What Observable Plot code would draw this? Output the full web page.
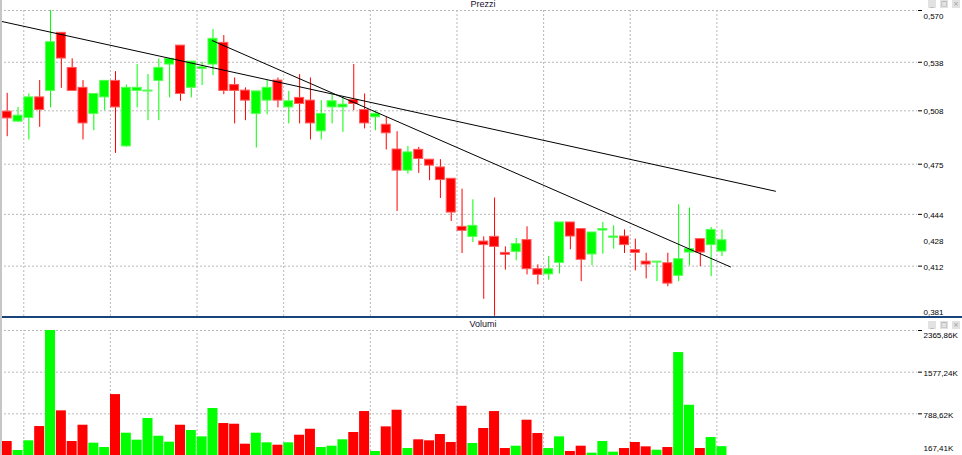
<!DOCTYPE html>
<html><head><meta charset="utf-8">
<script src="https://cdn.jsdelivr.net/npm/d3@7"></script>
<script src="https://cdn.jsdelivr.net/npm/@observablehq/plot@0.6"></script>
<style>
html,body{margin:0;padding:0;background:#fff;overflow:hidden}
#wrap{position:relative;width:962px;height:455px;overflow:hidden;background:#fff}
#wrap svg{display:block}
.sep{height:2px;background:#17457a}
.lb{position:absolute;left:0;top:0;width:2px;height:455px;background:#c6c6c6}
.icons{position:absolute;left:928px;display:flex;gap:4px}
.icons span{display:block;width:8px;height:8px;background:#e2e2e2;color:#9a9a9a;font:7px/8px 'DejaVu Sans',sans-serif;text-align:center}
</style></head><body><div id="wrap"></div>
<script>
// ---- data ----
const opens = [0.5075,0.5013,0.5036,0.5163,0.5203,0.5562,0.5345,0.5222,0.5061,0.5163,
  0.5265,0.4860,0.5203,0.5199,0.5265,0.5366,0.5483,0.5222,0.5339,0.5366,
  0.5500,0.5240,0.5205,0.5061,0.5143,0.5267,0.5101,0.5160,0.5143,0.4953,
  0.5101,0.5101,0.5147,0.5085,0.5040,0.4994,0.4841,0.4710,0.4839,0.4778,
  0.4730,0.4660,0.4363,0.4301,0.4272,0.4301,0.4202,0.4208,0.4281,0.4101,
  0.4069,0.4140,0.4390,0.4349,0.4192,0.4340,0.4295,0.4303,0.4219,0.4148,
  0.4142,0.4138,0.4060,0.4204,0.4287,0.4250,0.4210];
const highs = [0.5188,0.5101,0.5184,0.5267,0.5700,0.5562,0.5401,0.5267,0.5184,0.5265,
  0.5322,0.5240,0.5366,0.5304,0.5401,0.5401,0.5483,0.5384,0.5380,0.5582,
  0.5545,0.5283,0.5222,0.5200,0.5267,0.5283,0.5200,0.5304,0.5283,0.5143,
  0.5184,0.5163,0.5366,0.5184,0.5081,0.5040,0.4951,0.4860,0.4854,0.4778,
  0.4778,0.4660,0.4596,0.4530,0.4301,0.4541,0.4239,0.4291,0.4363,0.4128,
  0.4180,0.4390,0.4390,0.4349,0.4328,0.4390,0.4369,0.4344,0.4287,0.4200,
  0.4148,0.4200,0.4499,0.4479,0.4287,0.4359,0.4344];
const lows = [0.4920,0.5009,0.4900,0.4978,0.5098,0.5219,0.5203,0.4900,0.4957,0.5081,
  0.4817,0.4854,0.5098,0.5019,0.5019,0.5160,0.5139,0.5160,0.5236,0.5298,
  0.5180,0.4999,0.5019,0.4850,0.5056,0.5098,0.4999,0.4999,0.4900,0.4900,
  0.4999,0.4947,0.5081,0.4968,0.4957,0.4838,0.4458,0.4689,0.4693,0.4648,
  0.4538,0.4396,0.4198,0.4266,0.3915,0.3810,0.4095,0.4153,0.4066,0.4004,
  0.4033,0.4072,0.4221,0.4024,0.4122,0.4194,0.4225,0.4198,0.4091,0.4041,
  0.4024,0.3993,0.4024,0.4122,0.4117,0.4055,0.4179];
const closes = [0.5033,0.5050,0.5163,0.5085,0.5504,0.5403,0.5203,0.5002,0.5184,0.5265,
  0.5101,0.5222,0.5222,0.5205,0.5345,0.5401,0.5184,0.5384,0.5349,0.5525,
  0.5203,0.5203,0.5143,0.5200,0.5222,0.5143,0.5139,0.5122,0.5002,0.5061,
  0.5139,0.5118,0.5122,0.5002,0.5061,0.4941,0.4710,0.4823,0.4782,0.4741,
  0.4652,0.4451,0.4338,0.4369,0.4250,0.4239,0.4190,0.4256,0.4101,0.4066,
  0.4101,0.4390,0.4303,0.4159,0.4328,0.4349,0.4303,0.4250,0.4202,0.4130,
  0.4148,0.4012,0.4163,0.4225,0.4204,0.4344,0.4280];
const volumes = [265,95,278,548,2365.86,845,265,573,233,151,
  1153,422,290,700,365,252,573,473,353,889,
  605,592,214,422,240,195,240,384,497,151,
  176,297,435,832,76,542,857,132,297,278,
  397,246,932,227,511,832,132,176,668,416,
  132,353,76,176,44,265,63,132,246,164,
  100,151,1948,951,132,340,167.41];
const priceTicks = [0.570,0.538,0.508,0.475,0.444,0.412];
const priceExtraLabels = [0.428];
const priceMin = 0.381, priceMax = 0.570;
const volTicks = [2365.86,1577.24,788.62];
const volExtraLabels = [167.41];
const gridIdx = [2,10,18,26,34,42,50,58,66];
const trendA = [{i:-0.62,p:0.5634},{i:70.94,p:0.4583}];
const trendB = [{i:18.93,p:0.5514},{i:66.79,p:0.4115}];
const panelTitles = ["Prezzi","Volumi"];

// ---- build ----
const GREEN = "#00ff00", RED = "#ff0000";
const n = opens.length;
const candles = d3.range(n).map(i => ({i, o: opens[i], h: highs[i], l: lows[i], c: closes[i], v: volumes[i], up: closes[i] >= opens[i]}));
const xOpt = {type: "linear", domain: [0, n - 1], range: [6.7, 6.7 + 10.83 * (n - 1)], axis: null};
const fmtP = v => d3.format(".3f")(v).replace(".", ",");
const fmtV = v => d3.format(".2f")(v).replace(".", ",") + "K";
const style = {fontFamily: "'Liberation Sans', Arial, sans-serif", fontSize: "8px", background: "transparent", color: "#000", overflow: "visible"};
const gridStroke = {stroke: "#b8b8b8", strokeOpacity: 1, strokeDasharray: "2,2"};

const price = Plot.plot({
  width: 962, height: 316, marginLeft: 0, marginRight: 45, marginTop: 0, marginBottom: 0, style,
  x: xOpt,
  y: {domain: [priceMin, priceMax], range: [315.8, 10], label: null},
  color: {type: "identity"},
  marks: [
    Plot.gridY({ticks: priceTicks, ...gridStroke}),
    Plot.ruleX(gridIdx, {x: d => d - 0.47, y1: () => priceMax, y2: () => priceMin, ...gridStroke}),
    Plot.ruleX(candles, {x: "i", y1: "l", y2: "h", stroke: d => d.up ? GREEN : RED, strokeWidth: 1}),
    Plot.rect(candles, {x1: d => d.i - 0.415, x2: d => d.i + 0.415, y1: "o", y2: "c",
      fill: d => d.up ? GREEN : RED, stroke: d => d.up ? "#55ff55" : "#ff5c5c", strokeWidth: 1}),
    Plot.line(trendA, {x: "i", y: "p", stroke: "#000", strokeWidth: 1}),
    Plot.line(trendB, {x: "i", y: "p", stroke: "#000", strokeWidth: 1}),
    Plot.axisY({anchor: "right", ticks: priceTicks, tickSize: 4, tickFormat: () => "", label: null}),
    Plot.axisY({anchor: "right", ticks: priceTicks.slice(0, 1), tickSize: 0, tickPadding: 6, tickFormat: fmtP, dy: 5.5, label: null}),
    Plot.axisY({anchor: "right", ticks: priceTicks.slice(1).concat(priceExtraLabels), tickSize: 0, tickPadding: 6, tickFormat: fmtP, dy: 1, label: null}),
    Plot.axisY({anchor: "right", ticks: [priceMin], tickSize: 0, tickPadding: 6, tickFormat: fmtP, dy: -4, label: null}),
    Plot.text(panelTitles.slice(0, 1), {text: d => d, frameAnchor: "top", dx: 24, dy: 0.5, lineAnchor: "top", fontSize: 9, fill: "#1c1030"})
  ]
});

const vol = Plot.plot({
  width: 962, height: 137, marginLeft: 0, marginRight: 45, marginTop: 0, marginBottom: 0, style,
  x: xOpt,
  y: {domain: [0, volTicks[0]], range: [137, 12], label: null},
  color: {type: "identity"},
  marks: [
    Plot.gridY({ticks: volTicks, ...gridStroke}),
    Plot.ruleX(gridIdx, {x: d => d - 0.47, y1: () => 0, y2: () => volTicks[0], ...gridStroke}),
    Plot.rect(candles, {x1: d => d.i - 0.462, x2: d => d.i + 0.462, y1: () => 0, y2: "v", fill: d => d.up ? GREEN : RED}),
    Plot.axisY({anchor: "right", ticks: volTicks, tickSize: 4, tickFormat: () => "", label: null}),
    Plot.axisY({anchor: "right", ticks: volTicks.slice(0, 1), tickSize: 0, tickPadding: 6, tickFormat: fmtV, dy: 5, label: null}),
    Plot.axisY({anchor: "right", ticks: volTicks.slice(1).concat(volExtraLabels), tickSize: 0, tickPadding: 6, tickFormat: fmtV, dy: 1.5, label: null}),
    Plot.text(panelTitles.slice(1, 2), {text: d => d, frameAnchor: "top", dx: 24, dy: 2, lineAnchor: "top", fontSize: 9, fill: "#1c1030"})
  ]
});

const wrap = document.getElementById("wrap");
wrap.appendChild(price);
const sep = document.createElement("div"); sep.className = "sep"; wrap.appendChild(sep);
wrap.appendChild(vol);
const lb = document.createElement("div"); lb.className = "lb"; wrap.appendChild(lb);
for (const top of [0, 321]) {
  const ic = document.createElement("div"); ic.className = "icons"; ic.style.top = top + "px";
  for (const g of ["_", "\u25a1", "\u00d7"]) { const s = document.createElement("span"); s.textContent = g; ic.appendChild(s); }
  wrap.appendChild(ic);
}
</script></body></html>
